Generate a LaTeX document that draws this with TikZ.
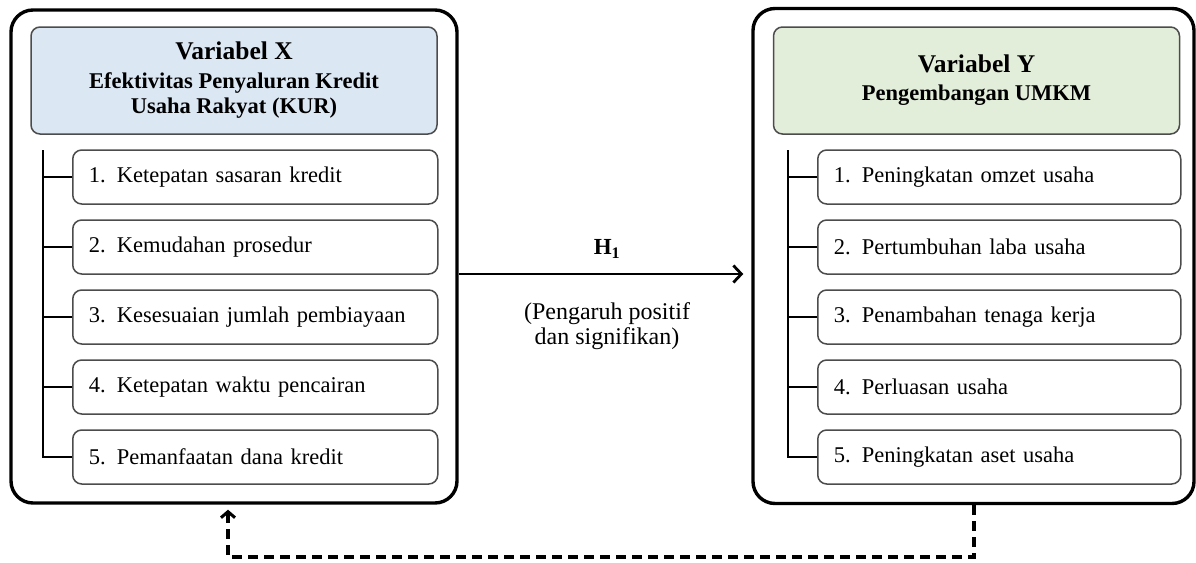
\documentclass[tikz,border=0pt]{standalone}
\usepackage{fontspec}
\setmainfont{Liberation Serif}
\usetikzlibrary{arrows.meta,positioning}
\definecolor{headblue}{RGB}{220,231,244}
\definecolor{headgreen}{RGB}{227,238,218}
\tikzset{%
  frame/.style = {draw, line width=3.4pt, rounded corners=22pt},
  head/.style = {draw=black!70, line width=1.5pt, rounded corners=9pt,
    align=center, minimum width=406pt, minimum height=107pt,
    font=\bfseries\fontsize{22.5}{25}\selectfont},
  item/.style = {draw=black!70, line width=1.5pt, rounded corners=9pt,
    anchor=west, minimum height=54pt, inner xsep=16pt, align=left,
    font=\fontsize{22.5}{25}\selectfont},
  stem/.style = {line width=2.6pt},
  link/.style = {line width=2.8pt, -{Straight Barb[length=8pt,width=17pt,line width=2.8pt]}},
  back/.style = {line width=3.2pt, dash pattern=on 10pt off 6pt,
    -{Straight Barb[length=6pt,width=14pt,line width=3pt]}}
}

\begin{document}
\begin{tikzpicture}[x=1pt,y=-1pt]
\useasboundingbox (0,0) rectangle (1196,562);
% outer frames
\node[frame, minimum width=446pt, minimum height=493pt] (boxX) at (234,256.5) {};
\node[frame, minimum width=441pt, minimum height=495pt] (boxY) at (973.5,256) {};

% headers
\node[head, fill=headblue] (varX) at (234,80.5)
  {{\fontsize{25.5}{28}\selectfont Variabel X}\\[4pt]
   Efektivitas Penyaluran Kredit\\ Usaha Rakyat (KUR)};
\node[head, fill=headgreen] (varY) at (976.5,80.5)
  {{\fontsize{25.5}{28}\selectfont Variabel Y}\\[3pt] Pengembangan UMKM};

% indicators X
\foreach \txt [count=\i] in {1. Ketepatan sasaran kredit, 2. Kemudahan prosedur,
    3. Kesesuaian jumlah pembiayaan, 4. Ketepatan waktu pencairan,
    5. Pemanfaatan dana kredit}
  \node[item, text width=333pt] (x\i) at (72,107+70*\i) {\txt};
\coordinate (stemX) at (43,150);
\draw[stem] (stemX) |- (x5.west);
\foreach \i in {1,...,4}
  \draw[stem] (x\i.west) -- (x\i.west -| stemX);

% indicators Y
\foreach \txt [count=\i] in {1. Peningkatan omzet usaha, 2. Pertumbuhan laba usaha,
    3. Penambahan tenaga kerja, 4. Perluasan usaha,
    5. Peningkatan aset usaha}
  \node[item, text width=331pt] (y\i) at (817,107+70*\i) {\txt};
\coordinate (stemY) at (788,150);
\draw[stem] (stemY) |- (y5.west);
\foreach \i in {1,...,4}
  \draw[stem] (y\i.west) -- (y\i.west -| stemY);

% hypothesis
\coordinate (hline) at (607,274);
\draw[link] (boxX.east |- hline) -- ([xshift=-8pt]boxY.west |- hline);
\node[font=\bfseries\fontsize{23}{25}\selectfont] (hyp) at (607,249) {H\textsubscript{1}};
\node[align=center, font=\fontsize{24}{25}\selectfont] (eff) at (607,326)
  {(Pengaruh positif\\ dan signifikan)};

% feedback
\coordinate (loop) at (228,557);
\draw[back] ([xshift=0.5pt]boxY.south) |- (loop) -- ([xshift=-6pt,yshift=-5pt]boxX.south);
\end{tikzpicture}
\end{document}
